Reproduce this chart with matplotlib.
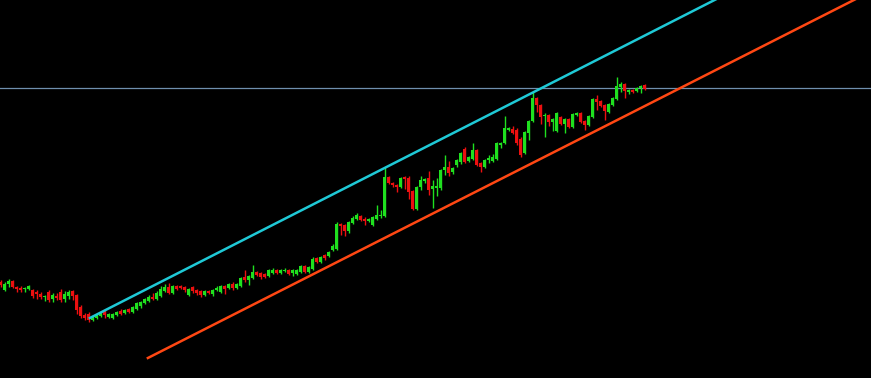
import matplotlib
matplotlib.use("Agg")
import matplotlib.pyplot as plt
import numpy as np

# candle data (open, high, low, close) - price units
opens = [96, 88, 94, 97, 91, 90, 89, 89, 88, 86, 84, 81, 86, 79, 82, 86, 79, 82, 87, 83,
         71, 63, 64, 58, 60, 62, 66, 61, 60, 63, 67, 65, 69, 66, 69, 72, 75, 77, 81, 79,
         82, 87, 91, 85, 92, 92, 91, 83, 91, 88, 87, 83, 87, 84, 88, 86, 92, 90, 94, 90,
         92, 101, 98, 100, 106, 105, 104, 102, 105, 108, 105, 107, 108, 105, 104, 106, 112, 106, 109, 120,
         116, 123, 122, 128, 129, 154, 153, 147, 155, 159, 162, 159, 157, 153, 159, 162, 162, 201, 195, 193,
         191, 201, 200, 187, 169, 191, 197, 200, 189, 190, 190, 208, 211, 206, 213, 216, 229, 217, 219, 228,
         215, 211, 218, 217, 219, 233, 235, 248, 249, 248, 239, 225, 245, 257, 280, 273, 262, 263, 256, 247,
         261, 254, 259, 251, 263, 265, 257, 253, 261, 279, 277, 273, 266, 273, 279, 291, 294, 286, 288, 287,
         290, 293]
highs = [98, 96, 99, 98, 92, 92, 91, 93, 89, 88, 86, 83, 88, 85, 85, 89, 87, 88, 88, 84,
         73, 65, 66, 63, 64, 66, 68, 65, 65, 67, 69, 69, 70, 72, 76, 77, 80, 83, 85, 87,
         92, 94, 95, 93, 93, 93, 92, 90, 92, 89, 88, 88, 88, 89, 92, 93, 93, 95, 96, 95,
         101, 108, 103, 113, 107, 106, 105, 109, 110, 109, 109, 110, 109, 109, 109, 113, 113, 112, 121, 121,
         122, 124, 127, 134, 156, 155, 154, 157, 162, 165, 163, 161, 160, 162, 173, 168, 211, 202, 196, 194,
         201, 202, 202, 188, 192, 202, 200, 207, 198, 200, 209, 223, 217, 211, 219, 226, 231, 222, 235, 229,
         216, 219, 223, 224, 236, 236, 262, 251, 252, 250, 241, 247, 258, 286, 281, 274, 265, 264, 260, 266,
         262, 260, 260, 265, 266, 266, 258, 263, 280, 283, 278, 274, 275, 281, 301, 296, 295, 289, 289, 291,
         293, 294]
lows = [91, 87, 91, 90, 86, 86, 86, 88, 80, 79, 79, 77, 76, 76, 78, 76, 76, 79, 78, 64,
        60, 58, 56, 57, 59, 61, 60, 60, 59, 62, 63, 64, 65, 65, 68, 70, 74, 76, 78, 78,
        81, 86, 84, 84, 88, 89, 86, 82, 85, 83, 81, 82, 84, 82, 87, 85, 84, 89, 88, 89,
        91, 96, 93, 99, 102, 99, 100, 101, 104, 104, 104, 106, 103, 102, 103, 105, 105, 105, 108, 115,
        115, 118, 121, 127, 128, 143, 142, 145, 154, 158, 157, 153, 156, 152, 158, 160, 161, 194, 191, 186,
        190, 189, 179, 168, 168, 188, 195, 183, 170, 182, 188, 203, 202, 204, 211, 214, 215, 216, 218, 212,
        206, 210, 215, 216, 218, 230, 234, 247, 244, 233, 221, 224, 238, 256, 266, 254, 241, 252, 247, 246,
        253, 245, 250, 250, 262, 255, 248, 252, 260, 268, 271, 258, 265, 272, 278, 286, 280, 284, 285, 286,
        285, 288]
closes = [93, 94, 97, 91, 89, 88, 90, 92, 82, 84, 81, 82, 78, 83, 80, 78, 84, 86, 82, 68,
          62, 60, 58, 62, 63, 65, 63, 64, 64, 66, 64, 68, 66, 71, 75, 76, 79, 81, 79, 85,
          89, 91, 85, 92, 89, 90, 88, 89, 87, 85, 83, 87, 85, 88, 90, 92, 89, 94, 90, 94,
          100, 98, 102, 106, 103, 101, 101, 108, 108, 105, 108, 108, 104, 108, 108, 112, 106, 111, 119, 116,
          121, 120, 126, 132, 154, 152, 147, 156, 160, 163, 158, 157, 159, 161, 163, 163, 201, 195, 193, 191,
          200, 199, 186, 169, 191, 198, 199, 188, 192, 192, 208, 211, 205, 210, 218, 225, 216, 221, 228, 213,
          211, 218, 220, 221, 235, 235, 250, 250, 245, 235, 223, 246, 257, 280, 273, 261, 263, 256, 259, 265,
          254, 259, 251, 264, 265, 256, 253, 262, 279, 276, 272, 267, 274, 280, 292, 294, 287, 288, 286, 290,
          292, 289]

# channel lines: (start index, start price) and slope per candle
upper_start = (22.3, 60)
upper_slope = 2.036
lower_start = (36.8, 20)
lower_slope = 2.028
level_price = 290

bull_color = "#1fe01f"
bear_color = "#ec1010"

fig = plt.figure(figsize=(8.71, 3.78), dpi=100, facecolor="black")
ax = fig.add_axes([0, 0, 1, 1])
ax.set_facecolor("black")

o = np.array(opens, dtype=float)
h = np.array(highs, dtype=float)
l = np.array(lows, dtype=float)
c = np.array(closes, dtype=float)
idx = np.arange(len(o))
colors = np.where(c >= o, bull_color, bear_color)

# horizontal level
ax.axhline(level_price, color="#6f8fae", lw=0.9, zorder=1)

# wicks and bodies
ax.vlines(idx, l, h, colors=colors, lw=1.0, zorder=2)
body_h = np.maximum(np.abs(c - o), 1.0)
ax.bar(idx, body_h, bottom=np.minimum(o, c), width=0.76, color=colors, linewidth=0, zorder=3)

# channel
x_end = 230
ux = np.array([upper_start[0], x_end])
ax.plot(ux, upper_start[1] + upper_slope * (ux - upper_start[0]), color="#1fc9d6", lw=1.8, zorder=4)
lx = np.array([lower_start[0], x_end])
ax.plot(lx, lower_start[1] + lower_slope * (lx - lower_start[0]), color="#ff4713", lw=1.8, zorder=4)

ax.set_xlim(-0.175, 217.6)
ax.set_ylim(0, 378)
ax.axis("off")

fig.savefig("out.png", dpi=100, facecolor="black")
